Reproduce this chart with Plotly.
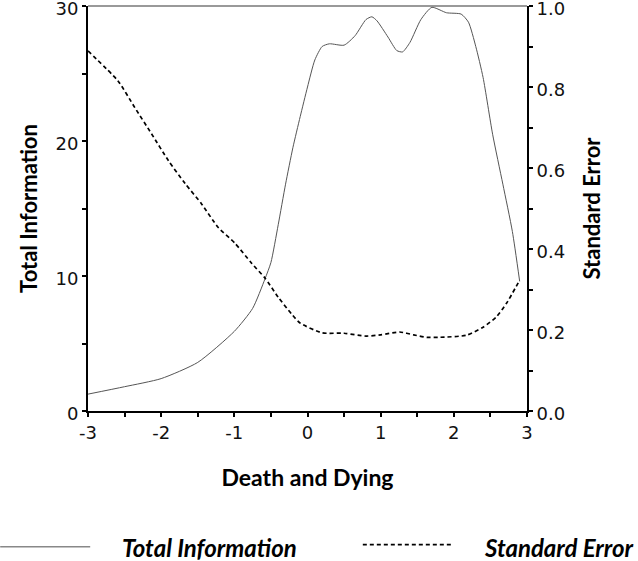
import plotly.graph_objects as go

# values
theta_info = [-3.0, -2.5, -2.0, -1.5, -1.0, -0.75, -0.58, -0.5, -0.4, -0.3, -0.2, -0.1, 0.0, 0.1,
              0.2, 0.3, 0.5, 0.65, 0.8, 0.88, 0.95, 1.1, 1.22, 1.3, 1.4, 1.55, 1.7, 1.9, 2.1,
              2.2, 2.3, 2.4, 2.53, 2.67, 2.8, 2.9]
total_info = [1.25, 1.8, 2.4, 3.6, 5.9, 7.6, 9.8, 11.0, 13.8, 16.8, 19.5, 21.8, 24.0, 26.0,
              27.0, 27.2, 27.1, 27.8, 29.0, 29.2, 28.9, 27.7, 26.7, 26.6, 27.3, 29.0, 29.9, 29.5, 29.4,
              28.8, 27.0, 24.7, 20.5, 16.8, 13.3, 9.6]

theta_se = [-3.0, -2.59, -2.36, -2.13, -1.9, -1.67, -1.45, -1.22, -0.99, -0.76, -0.58, -0.4,
            -0.22, -0.1, 0.2, 0.5, 0.8, 1.0, 1.26, 1.45, 1.63, 1.81, 2.17, 2.4, 2.58, 2.72, 2.9]
std_error = [0.889, 0.815, 0.749, 0.684, 0.618, 0.561, 0.512, 0.453, 0.414, 0.364, 0.328, 0.281,
             0.24, 0.217, 0.193, 0.192, 0.185, 0.188, 0.195, 0.188, 0.182, 0.182, 0.187, 0.207,
             0.232, 0.266, 0.323]

x_ticks = [-3, -2.5, -2, -1.5, -1, -0.5, 0, 0.5, 1, 1.5, 2, 2.5, 3]
x_labels = ['-3', '', '-2', '', '-1', '', '0', '', '1', '', '2', '', '3']
y1_ticks = [0, 5, 10, 15, 20, 25, 30]
y1_labels = ['0', '', '10', '', '20', '', '30']
y2_ticks = [0, 0.1, 0.2, 0.3, 0.4, 0.5, 0.6, 0.7, 0.8, 0.9, 1.0]
y2_labels = ['0.0', '', '0.2', '', '0.4', '', '0.6', '', '0.8', '', '1.0']

TICK_FONT = dict(family='DejaVu Sans', size=18, color='#111')
TITLE_FONT = dict(family='Lato', size=22, color='black', weight='bold')

fig = go.Figure()
fig.add_trace(go.Scatter(x=theta_info, y=total_info, mode='lines', name='Total Information',
                         line=dict(color='#555555', width=1, shape='spline', smoothing=0.6),
                         yaxis='y'))
fig.add_trace(go.Scatter(x=theta_se, y=std_error, mode='lines', name='Standard Error',
                         line=dict(color='black', width=1.7, dash='4px,3px', shape='spline', smoothing=0.6),
                         yaxis='y2'))

axis_common = dict(showgrid=False, zeroline=False, tickwidth=2, tickcolor='black', automargin=False)

fig.update_layout(
    width=638, height=561,
    margin=dict(l=88, r=111, t=6, b=150),
    plot_bgcolor='white', paper_bgcolor='white',
    showlegend=False,
    xaxis=dict(range=[-3, 3], tickvals=x_ticks, ticktext=x_labels, ticks='outside', ticklen=4,
               showline=True, linecolor='black', linewidth=2, tickfont=TICK_FONT,
               title=dict(text='Death and Dying', font=dict(TITLE_FONT, size=23), standoff=28),
               **axis_common),
    xaxis3=dict(range=[-3, 3], overlaying='x', anchor='y', side='bottom', tickvals=x_ticks,
                ticks='inside', ticklen=4, showticklabels=False, showline=False, **axis_common),
    yaxis=dict(range=[0, 30], tickvals=y1_ticks, ticktext=y1_labels, ticks='outside', ticklen=4,
               showline=True, linecolor='black', linewidth=2, tickfont=TICK_FONT,
               ticklabeloverflow='allow', ticklabelshift=3,
               title=dict(text='Total Information', font=TITLE_FONT, standoff=12), **axis_common),
    yaxis3=dict(range=[0, 30], overlaying='y', anchor='x', side='left', tickvals=y1_ticks,
                ticks='inside', ticklen=6, showticklabels=False, showline=False, **axis_common),
    yaxis2=dict(range=[0, 1], overlaying='y', side='right', anchor='x', tickvals=y2_ticks,
                ticktext=y2_labels, ticks='outside', ticklen=4, showline=True, linecolor='black',
                linewidth=2, tickfont=TICK_FONT, ticklabeloverflow='allow', ticklabelshift=3,
                title=dict(text='Standard Error', font=TITLE_FONT, standoff=20), **axis_common),
    yaxis4=dict(range=[0, 1], overlaying='y', side='right', anchor='x', tickvals=y2_ticks,
                ticks='inside', ticklen=6, showticklabels=False, showline=False, **axis_common),
)

# grey frame line along the top of the plot area
fig.add_shape(type='line', xref='paper', yref='paper', x0=0, x1=1, y0=1, y1=1,
              line=dict(color='#999999', width=2), layer='below')

# legend drawn below the axis title, as in the original
fig.add_shape(type='line', xref='paper', yref='paper', x0=-0.2, x1=0.005, y0=-0.335, y1=-0.335,
              line=dict(color='#888888', width=1.5))
fig.add_shape(type='line', xref='paper', yref='paper', x0=0.626, x1=0.827, y0=-0.330, y1=-0.330,
              line=dict(color='black', width=1.7, dash='4px,3px'))
LEGEND_FONT = dict(family='Lato', size=24, color='black', weight='bold', style='italic')
fig.add_annotation(x=0.073, y=-0.338, xref='paper', yref='paper', text='Total Information',
                   showarrow=False, xanchor='left', yanchor='middle', font=LEGEND_FONT)
fig.add_annotation(x=0.897, y=-0.338, xref='paper', yref='paper', text='Standard Error',
                   showarrow=False, xanchor='left', yanchor='middle', font=LEGEND_FONT)

# drop the page's default body margin so the figure sits at the window's corner
fig.write_html('out.html', config={'displayModeBar': False},
               post_script="document.body.style.margin='0';")
